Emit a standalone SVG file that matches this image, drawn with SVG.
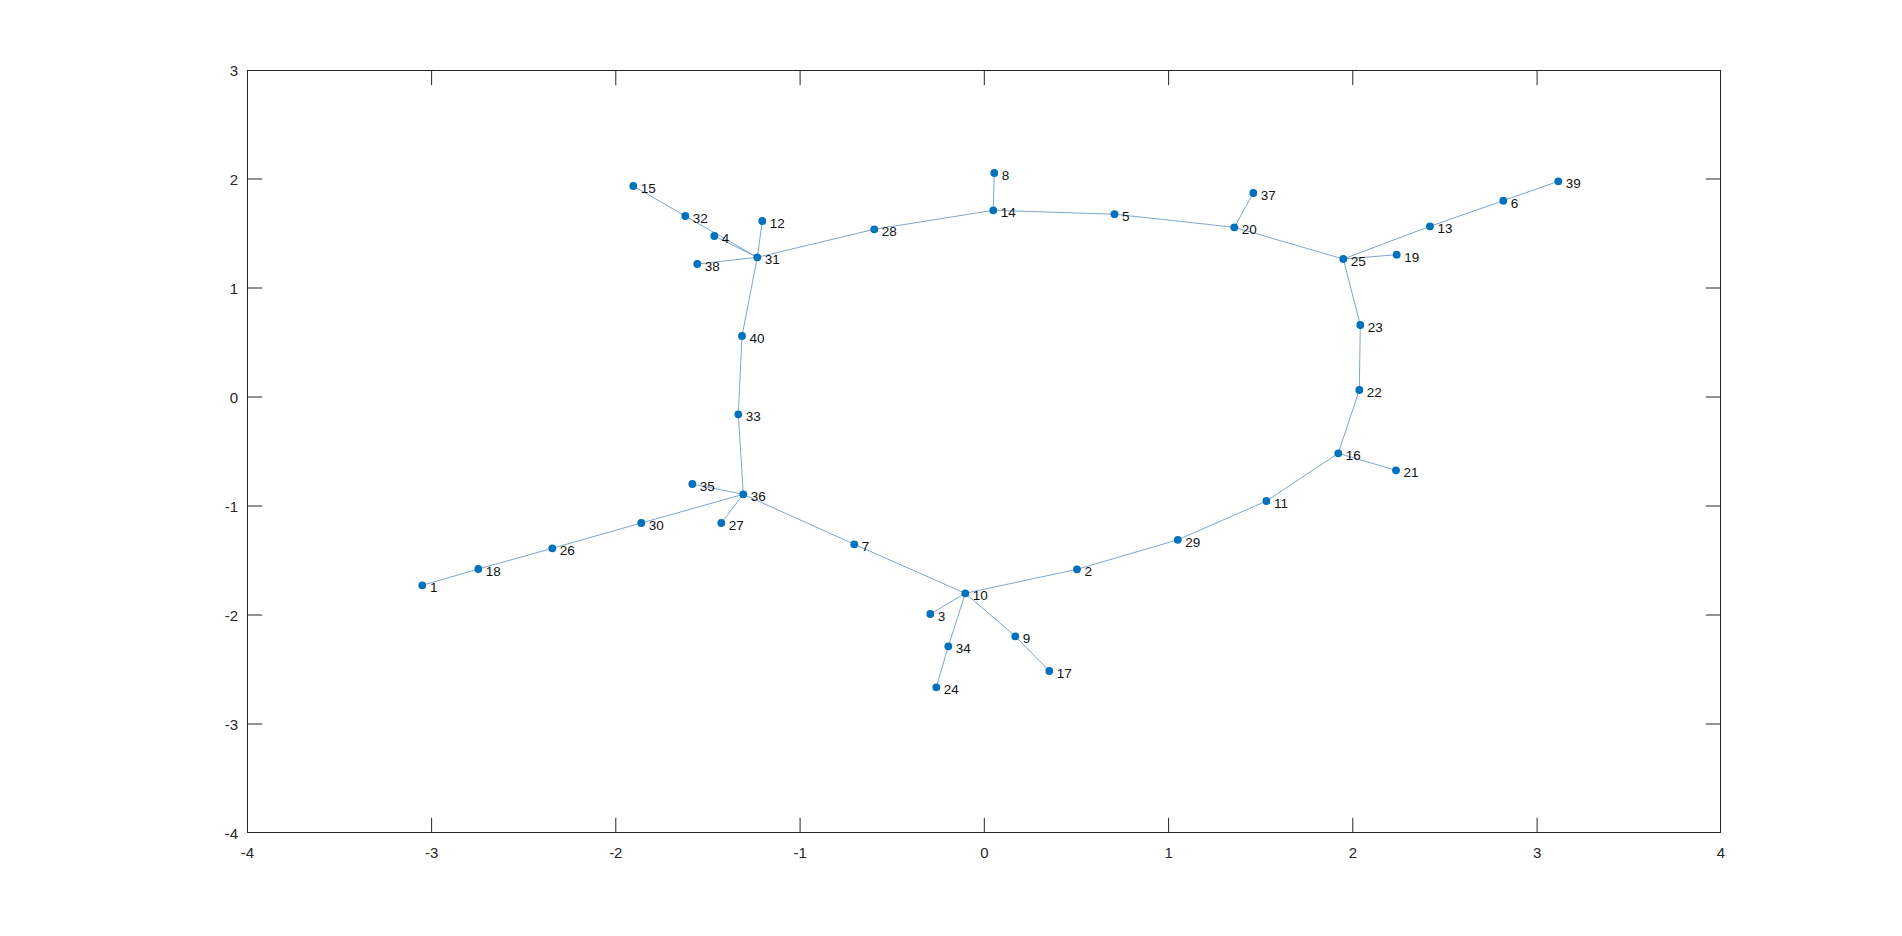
<svg xmlns="http://www.w3.org/2000/svg" width="1902" height="936" viewBox="0 0 1902 936">
<style>
.bg{fill:#ffffff}
.box{fill:none;stroke:#262626;stroke-width:1}
.tick{stroke:#262626;stroke-width:1}
.tl{font-family:"Liberation Sans",Arial,sans-serif;font-size:15px;fill:#262626}
.tx{text-anchor:middle}
.ty{text-anchor:end}
.e{stroke:#7fa6cc;stroke-width:1;fill:none}
.n circle{fill:#0072bd}
.n text{font-family:"Liberation Sans",Arial,sans-serif;font-size:13.5px;fill:#111111}
</style>
<rect class="bg" x="0" y="0" width="1902" height="936"/>
<g id="axes">
<rect class="box" x="247.5" y="70.5" width="1473" height="762"/>
<g id="xticks">
<path class="tick" d="M431.6 832.5v-14.7M615.8 832.5v-14.7M800.1 832.5v-14.7M984.3 832.5v-14.7M1168.6 832.5v-14.7M1352.8 832.5v-14.7M1537.1 832.5v-14.7M431.6 70.5v14.7M615.8 70.5v14.7M800.1 70.5v14.7M984.3 70.5v14.7M1168.6 70.5v14.7M1352.8 70.5v14.7M1537.1 70.5v14.7"/>
<text class="tl tx" x="247.5" y="858">-4</text>
<text class="tl tx" x="431.6" y="858">-3</text>
<text class="tl tx" x="615.8" y="858">-2</text>
<text class="tl tx" x="800.1" y="858">-1</text>
<text class="tl tx" x="984.3" y="858">0</text>
<text class="tl tx" x="1168.6" y="858">1</text>
<text class="tl tx" x="1352.8" y="858">2</text>
<text class="tl tx" x="1537.1" y="858">3</text>
<text class="tl tx" x="1721" y="858">4</text>
</g>
<g id="yticks">
<path class="tick" d="M247.5 724h14.7M247.5 615h14.7M247.5 506h14.7M247.5 397h14.7M247.5 288h14.7M247.5 179h14.7M1720.5 724h-14.7M1720.5 615h-14.7M1720.5 506h-14.7M1720.5 397h-14.7M1720.5 288h-14.7M1720.5 179h-14.7"/>
<text class="tl ty" x="238" y="838.5">-4</text>
<text class="tl ty" x="238" y="729.5">-3</text>
<text class="tl ty" x="238" y="620.5">-2</text>
<text class="tl ty" x="238" y="511.5">-1</text>
<text class="tl ty" x="238" y="402.5">0</text>
<text class="tl ty" x="238" y="293.5">1</text>
<text class="tl ty" x="238" y="184.5">2</text>
<text class="tl ty" x="238" y="75.5">3</text>
</g>
</g>
<g id="connectors">
<line class="e" x1="633.3" y1="186" x2="685.3" y2="216"/>
<line class="e" x1="685.3" y1="216" x2="757.3" y2="257.3"/>
<line class="e" x1="714.3" y1="236" x2="757.3" y2="257.3"/>
<line class="e" x1="762.3" y1="221" x2="757.3" y2="257.3"/>
<line class="e" x1="697.3" y1="264" x2="757.3" y2="257.3"/>
<line class="e" x1="757.3" y1="257.3" x2="874.3" y2="229.3"/>
<line class="e" x1="874.3" y1="229.3" x2="993.3" y2="210.3"/>
<line class="e" x1="993.3" y1="210.3" x2="994.3" y2="173"/>
<line class="e" x1="993.3" y1="210.3" x2="1114.5" y2="214.2"/>
<line class="e" x1="1114.5" y1="214.2" x2="1234.3" y2="227.3"/>
<line class="e" x1="1234.3" y1="227.3" x2="1253.3" y2="193"/>
<line class="e" x1="1234.3" y1="227.3" x2="1343.3" y2="259"/>
<line class="e" x1="1343.3" y1="259" x2="1430" y2="226.3"/>
<line class="e" x1="1430" y1="226.3" x2="1503.3" y2="200.7"/>
<line class="e" x1="1503.3" y1="200.7" x2="1558.3" y2="181.3"/>
<line class="e" x1="1343.3" y1="259" x2="1396.7" y2="254.7"/>
<line class="e" x1="1343.3" y1="259" x2="1360.3" y2="325"/>
<line class="e" x1="1360.3" y1="325" x2="1359.3" y2="390"/>
<line class="e" x1="1359.3" y1="390" x2="1338.3" y2="453.3"/>
<line class="e" x1="1338.3" y1="453.3" x2="1396" y2="470.3"/>
<line class="e" x1="1338.3" y1="453.3" x2="1266.4" y2="501"/>
<line class="e" x1="1266.4" y1="501" x2="1177.8" y2="539.8"/>
<line class="e" x1="1177.8" y1="539.8" x2="1077" y2="569.3"/>
<line class="e" x1="1077" y1="569.3" x2="965.3" y2="593.3"/>
<line class="e" x1="965.3" y1="593.3" x2="930.3" y2="614"/>
<line class="e" x1="965.3" y1="593.3" x2="948.3" y2="646.3"/>
<line class="e" x1="948.3" y1="646.3" x2="936.3" y2="687.3"/>
<line class="e" x1="965.3" y1="593.3" x2="1015.3" y2="636.3"/>
<line class="e" x1="1015.3" y1="636.3" x2="1049.3" y2="671"/>
<line class="e" x1="965.3" y1="593.3" x2="854.3" y2="544.3"/>
<line class="e" x1="854.3" y1="544.3" x2="743.3" y2="494.3"/>
<line class="e" x1="743.3" y1="494.3" x2="692.3" y2="484"/>
<line class="e" x1="743.3" y1="494.3" x2="721.3" y2="523"/>
<line class="e" x1="743.3" y1="494.3" x2="641.3" y2="523"/>
<line class="e" x1="641.3" y1="523" x2="552.3" y2="548.3"/>
<line class="e" x1="552.3" y1="548.3" x2="478.3" y2="569"/>
<line class="e" x1="478.3" y1="569" x2="422.3" y2="585.3"/>
<line class="e" x1="743.3" y1="494.3" x2="738.3" y2="414.3"/>
<line class="e" x1="738.3" y1="414.3" x2="742" y2="336"/>
<line class="e" x1="742" y1="336" x2="757.3" y2="257.3"/>
</g>
<g id="node1" class="n"><circle cx="422.3" cy="585.3" r="3.9"/><text x="430" y="592">1</text></g>
<g id="node2" class="n"><circle cx="1077" cy="569.3" r="3.9"/><text x="1084.5" y="576">2</text></g>
<g id="node3" class="n"><circle cx="930.3" cy="614" r="3.9"/><text x="937.8" y="621">3</text></g>
<g id="node4" class="n"><circle cx="714.3" cy="236" r="3.9"/><text x="721.8" y="243">4</text></g>
<g id="node5" class="n"><circle cx="1114.5" cy="214.2" r="3.9"/><text x="1122" y="221">5</text></g>
<g id="node6" class="n"><circle cx="1503.3" cy="200.7" r="3.9"/><text x="1510.8" y="207.5">6</text></g>
<g id="node7" class="n"><circle cx="854.3" cy="544.3" r="3.9"/><text x="861.8" y="551">7</text></g>
<g id="node8" class="n"><circle cx="994.3" cy="173" r="3.9"/><text x="1001.8" y="180">8</text></g>
<g id="node9" class="n"><circle cx="1015.3" cy="636.3" r="3.9"/><text x="1022.8" y="643">9</text></g>
<g id="node10" class="n"><circle cx="965.3" cy="593.3" r="3.9"/><text x="972.8" y="600">10</text></g>
<g id="node11" class="n"><circle cx="1266.4" cy="501" r="3.9"/><text x="1273.9" y="508">11</text></g>
<g id="node12" class="n"><circle cx="762.3" cy="221" r="3.9"/><text x="769.8" y="228">12</text></g>
<g id="node13" class="n"><circle cx="1430" cy="226.3" r="3.9"/><text x="1437.5" y="233">13</text></g>
<g id="node14" class="n"><circle cx="993.3" cy="210.3" r="3.9"/><text x="1000.8" y="217">14</text></g>
<g id="node15" class="n"><circle cx="633.3" cy="186" r="3.9"/><text x="640.8" y="193">15</text></g>
<g id="node16" class="n"><circle cx="1338.3" cy="453.3" r="3.9"/><text x="1345.8" y="460">16</text></g>
<g id="node17" class="n"><circle cx="1049.3" cy="671" r="3.9"/><text x="1056.8" y="678">17</text></g>
<g id="node18" class="n"><circle cx="478.3" cy="569" r="3.9"/><text x="485.8" y="576">18</text></g>
<g id="node19" class="n"><circle cx="1396.7" cy="254.7" r="3.9"/><text x="1404.2" y="261.5">19</text></g>
<g id="node20" class="n"><circle cx="1234.3" cy="227.3" r="3.9"/><text x="1241.8" y="234">20</text></g>
<g id="node21" class="n"><circle cx="1396" cy="470.3" r="3.9"/><text x="1403.5" y="477">21</text></g>
<g id="node22" class="n"><circle cx="1359.3" cy="390" r="3.9"/><text x="1366.8" y="397">22</text></g>
<g id="node23" class="n"><circle cx="1360.3" cy="325" r="3.9"/><text x="1367.8" y="332">23</text></g>
<g id="node24" class="n"><circle cx="936.3" cy="687.3" r="3.9"/><text x="943.8" y="694">24</text></g>
<g id="node25" class="n"><circle cx="1343.3" cy="259" r="3.9"/><text x="1350.8" y="266">25</text></g>
<g id="node26" class="n"><circle cx="552.3" cy="548.3" r="3.9"/><text x="559.8" y="555">26</text></g>
<g id="node27" class="n"><circle cx="721.3" cy="523" r="3.9"/><text x="728.8" y="530">27</text></g>
<g id="node28" class="n"><circle cx="874.3" cy="229.3" r="3.9"/><text x="881.8" y="236">28</text></g>
<g id="node29" class="n"><circle cx="1177.8" cy="539.8" r="3.9"/><text x="1185.3" y="546.5">29</text></g>
<g id="node30" class="n"><circle cx="641.3" cy="523" r="3.9"/><text x="648.8" y="530">30</text></g>
<g id="node31" class="n"><circle cx="757.3" cy="257.3" r="3.9"/><text x="764.8" y="264">31</text></g>
<g id="node32" class="n"><circle cx="685.3" cy="216" r="3.9"/><text x="692.8" y="223">32</text></g>
<g id="node33" class="n"><circle cx="738.3" cy="414.3" r="3.9"/><text x="745.8" y="421">33</text></g>
<g id="node34" class="n"><circle cx="948.3" cy="646.3" r="3.9"/><text x="955.8" y="653">34</text></g>
<g id="node35" class="n"><circle cx="692.3" cy="484" r="3.9"/><text x="699.8" y="491">35</text></g>
<g id="node36" class="n"><circle cx="743.3" cy="494.3" r="3.9"/><text x="750.8" y="501">36</text></g>
<g id="node37" class="n"><circle cx="1253.3" cy="193" r="3.9"/><text x="1260.8" y="200">37</text></g>
<g id="node38" class="n"><circle cx="697.3" cy="264" r="3.9"/><text x="704.8" y="271">38</text></g>
<g id="node39" class="n"><circle cx="1558.3" cy="181.3" r="3.9"/><text x="1565.8" y="188">39</text></g>
<g id="node40" class="n"><circle cx="742" cy="336" r="3.9"/><text x="749.5" y="343">40</text></g>
</svg>
